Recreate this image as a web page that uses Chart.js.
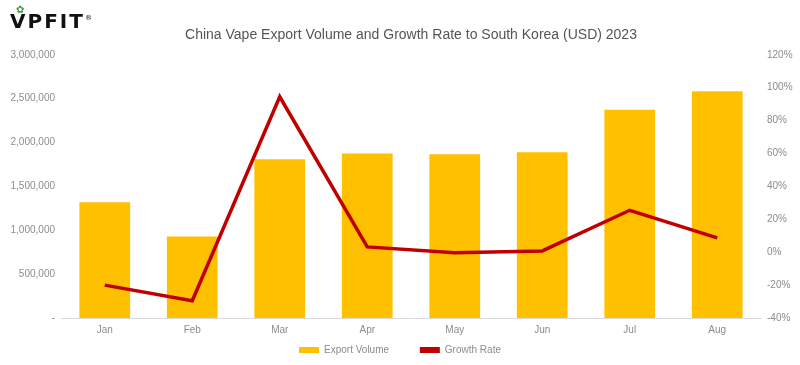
<!DOCTYPE html>
<html lang="en">
<head>
    <meta charset="UTF-8">
    <title>China Vape Export Volume and Growth Rate to South Korea</title>
    <script src="https://cdn.jsdelivr.net/npm/chart.js"></script>
    <style>
        body {
            margin: 0;
            background: #fff;
            font-family: 'Liberation Sans', Arial, sans-serif;
        }
        .wrap {
            position: relative;
            width: 800px;
            height: 365px;
        }
        /* logo top-left */
        .logo {
            position: absolute;
            left: 10px;
            top: 9px;
            font-family: 'DejaVu Sans', sans-serif;
            font-weight: 900;
            font-size: 20px;
            letter-spacing: 2px;
            color: #111;
        }
        .logo .leaf {
            color: #3a9a3a;
            font-size: 10px;
            position: absolute;
            left: 6px;
            top: -5px;
        }
        .logo sup {
            font-size: 7px;
            font-weight: 400;
        }
    </style>
</head>
<body>
    <div class="wrap">
        <canvas id="chart" width="800" height="365"></canvas>
        <div class="logo"><span class="leaf">&#10047;</span>VPFIT<sup>&reg;</sup></div>
    </div>

    <script>
        // data
        const months = ['Jan', 'Feb', 'Mar', 'Apr', 'May', 'Jun', 'Jul', 'Aug'];
        const exportVolume = [1320000, 930000, 1810000, 1875000, 1867000, 1890000, 2375000, 2585000];
        const growthRate = [-20, -29.5, 94.5, 3.2, -0.4, 0.8, 25.5, 8.7];

        const tickColor = '#8c8c8c';
        const tickFont = { family: "'Liberation Sans', Arial, sans-serif", size: 10 };

        const ctx = document.getElementById('chart').getContext('2d');
        new Chart(ctx, {
            data: {
                labels: months,
                datasets: [
                    {
                        type: 'line',
                        label: 'Growth Rate',
                        data: growthRate,
                        yAxisID: 'y1',
                        borderColor: '#C00000',
                        backgroundColor: '#C00000',
                        borderWidth: 3.5,
                        pointRadius: 0,
                        tension: 0,
                        order: 0
                    },
                    {
                        type: 'bar',
                        label: 'Export Volume',
                        data: exportVolume,
                        yAxisID: 'y',
                        backgroundColor: '#FFC000',
                        categoryPercentage: 1,
                        barPercentage: 0.58,
                        order: 1
                    }
                ]
            },
            options: {
                responsive: false,
                animation: false,
                layout: { padding: 0 },
                plugins: {
                    title: {
                        display: true,
                        fullSize: false,
                        text: 'China Vape Export Volume and Growth Rate to South Korea (USD) 2023',
                        color: '#555',
                        font: { family: "'Liberation Sans', Arial, sans-serif", size: 14, weight: 'normal' },
                        padding: { top: 27, bottom: 11 }
                    },
                    legend: {
                        position: 'bottom',
                        reverse: true,
                        labels: {
                            color: tickColor,
                            font: tickFont,
                            boxWidth: 20,
                            boxHeight: 6,
                            padding: 3,
                            generateLabels: function (chart) {
                                const items = Chart.defaults.plugins.legend.labels.generateLabels(chart);
                                items.forEach(function (it) {
                                    it.lineWidth = 0;
                                    it.fillStyle = it.text === 'Growth Rate' ? '#C00000' : '#FFC000';
                                    // wider gap between the two entries
                                    if (it.text === 'Export Volume') it.text = it.text + '          ';
                                });
                                return items;
                            }
                        }
                    },
                    tooltip: { enabled: false }
                },
                scales: {
                    x: {
                        grid: { display: false, drawTicks: false },
                        border: { color: '#d9d9d9' },
                        ticks: { color: tickColor, font: tickFont, padding: 6 }
                    },
                    y: {
                        position: 'left',
                        min: 0,
                        max: 3000000,
                        grid: { display: false, drawTicks: false },
                        border: { display: false },
                        afterFit: function (scale) { scale.width = 61; },
                        ticks: {
                            stepSize: 500000,
                            color: tickColor,
                            font: tickFont,
                            padding: 6,
                            callback: function (v) {
                                return v === 0 ? '-' : v.toLocaleString('en-US');
                            }
                        }
                    },
                    y1: {
                        position: 'right',
                        min: -40,
                        max: 120,
                        grid: { display: false, drawTicks: false },
                        border: { display: false },
                        afterFit: function (scale) { scale.width = 39; },
                        ticks: {
                            stepSize: 20,
                            color: tickColor,
                            font: tickFont,
                            padding: 6,
                            callback: function (v) { return v + '%'; }
                        }
                    }
                }
            }
        });
    </script>
</body>
</html>
